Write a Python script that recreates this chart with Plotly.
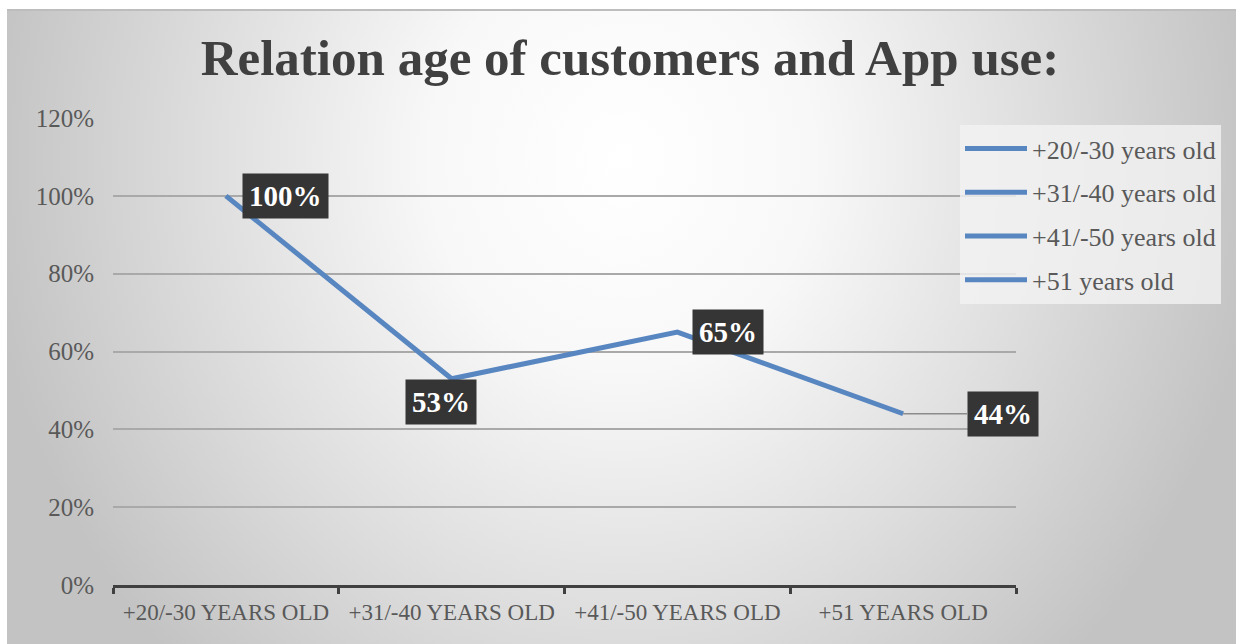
import base64
import plotly.graph_objects as go

# Age groups and share of customers using the app
categories = ["+20/-30 YEARS OLD", "+31/-40 YEARS OLD", "+41/-50 YEARS OLD", "+51 YEARS OLD"]
legend_names = ["+20/-30 years old", "+31/-40 years old", "+41/-50 years old", "+51 years old"]
app_use = [1.00, 0.53, 0.65, 0.44]
value_labels = ["100%", "53%", "65%", "44%"]
y_ticks = [0, 0.2, 0.4, 0.6, 0.8, 1.0, 1.2]
y_tick_labels = ["0%", "20%", "40%", "60%", "80%", "100%", "120%"]

LINE_BLUE = "#5886c0"
SERIF = "Liberation Serif, DejaVu Serif, serif"

# Soft grey-to-white gradient used as the chart-area fill
svg = """<svg xmlns='http://www.w3.org/2000/svg' width='1229' height='635' viewBox='0 0 1229 635' preserveAspectRatio='none'>
<defs>
<radialGradient id='g' cx='615' cy='150' r='640' gradientUnits='userSpaceOnUse'
 gradientTransform='translate(615,150) scale(1,1.1) translate(-615,-150)'>
<stop offset='0' stop-color='#ffffff'/>
<stop offset='0.3' stop-color='#f8f8f8'/>
<stop offset='0.65' stop-color='#dedede'/>
<stop offset='1' stop-color='#c3c3c3'/>
</radialGradient>
</defs>
<rect x='0' y='0' width='1229' height='635' fill='url(#g)'/>
<rect x='0' y='0' width='1229' height='2' fill='#bdbdbd'/>
</svg>"""
bg_src = "data:image/svg+xml;base64," + base64.b64encode(svg.encode()).decode()

fig = go.Figure()

fig.add_trace(go.Scatter(
    x=categories, y=app_use, mode="lines",
    line=dict(color=LINE_BLUE, width=5),
    showlegend=False, hoverinfo="skip",
))

# Legend entries, one per age group
for i, name in enumerate(legend_names):
    fig.add_trace(go.Scatter(
        x=[None], y=[None], mode="lines", name=name,
        legendgroup=f"g{i}",
        line=dict(color=LINE_BLUE, width=5),
    ))

# Dark value callouts (only the last one has a leader line)
offsets = [
    dict(ax=60, ay=0, arrow=False),
    dict(ax=-11, ay=23, arrow=False),
    dict(ax=51, ay=0, arrow=False),
    dict(ax=100, ay=0, arrow=True),
]
for x, y, txt, off in zip(categories, app_use, value_labels, offsets):
    fig.add_annotation(
        x=x, y=y, xref="x", yref="y", text=f"<b>{txt}</b>",
        showarrow=True, ax=off["ax"], ay=off["ay"],
        arrowhead=0, arrowwidth=1.5,
        arrowcolor="#8c8c8c" if off["arrow"] else "rgba(0,0,0,0)",
        font=dict(family=SERIF, size=29, color="white"),
        bgcolor="#353535", borderpad=6,
    )

fig.add_layout_image(
    source=bg_src, xref="paper", yref="paper",
    x=(7 - 113) / 903, y=(585 - 9) / 467,
    sizex=1229 / 903, sizey=635 / 467,
    xanchor="left", yanchor="top", sizing="stretch", layer="below",
)

fig.update_layout(
    width=1241, height=644,
    margin=dict(l=113, r=225, t=118, b=59),
    paper_bgcolor="white",
    plot_bgcolor="rgba(0,0,0,0)",
    title=dict(
        text="<b>Relation age of customers and App use:</b>",
        x=630 / 1241, xref="container", xanchor="center",
        y=1 - 57 / 644, yanchor="middle",
        font=dict(family=SERIF, size=51, color="#404040"),
    ),
    showlegend=True,
    legend=dict(
        x=(960 - 113) / 903, xanchor="left",
        y=(585 - 125) / 467, yanchor="top",
        bgcolor="rgba(243,243,243,0.8)",
        font=dict(family=SERIF, size=26, color="#595959"),
        traceorder="grouped", tracegroupgap=7,
        itemwidth=62,
    ),
    xaxis=dict(
        type="category", range=[-0.5, 3.5],
        showgrid=False, zeroline=False,
        showline=True, linecolor="#404040", linewidth=3,
        ticks="outside", tickson="boundaries", ticklen=6, tickwidth=3,
        tickcolor="#404040", ticklabelstandoff=4,
        tickfont=dict(family=SERIF, size=23, color="#595959"),
    ),
    yaxis=dict(
        range=[0, 1.2], tickvals=y_ticks, ticktext=y_tick_labels,
        showgrid=True, gridcolor="#a9a9a9", gridwidth=2,
        zeroline=False, showline=False, ticks="",
        ticklabelstandoff=18,
        tickfont=dict(family=SERIF, size=25, color="#595959"),
    ),
)

fig.write_html("out.html")
